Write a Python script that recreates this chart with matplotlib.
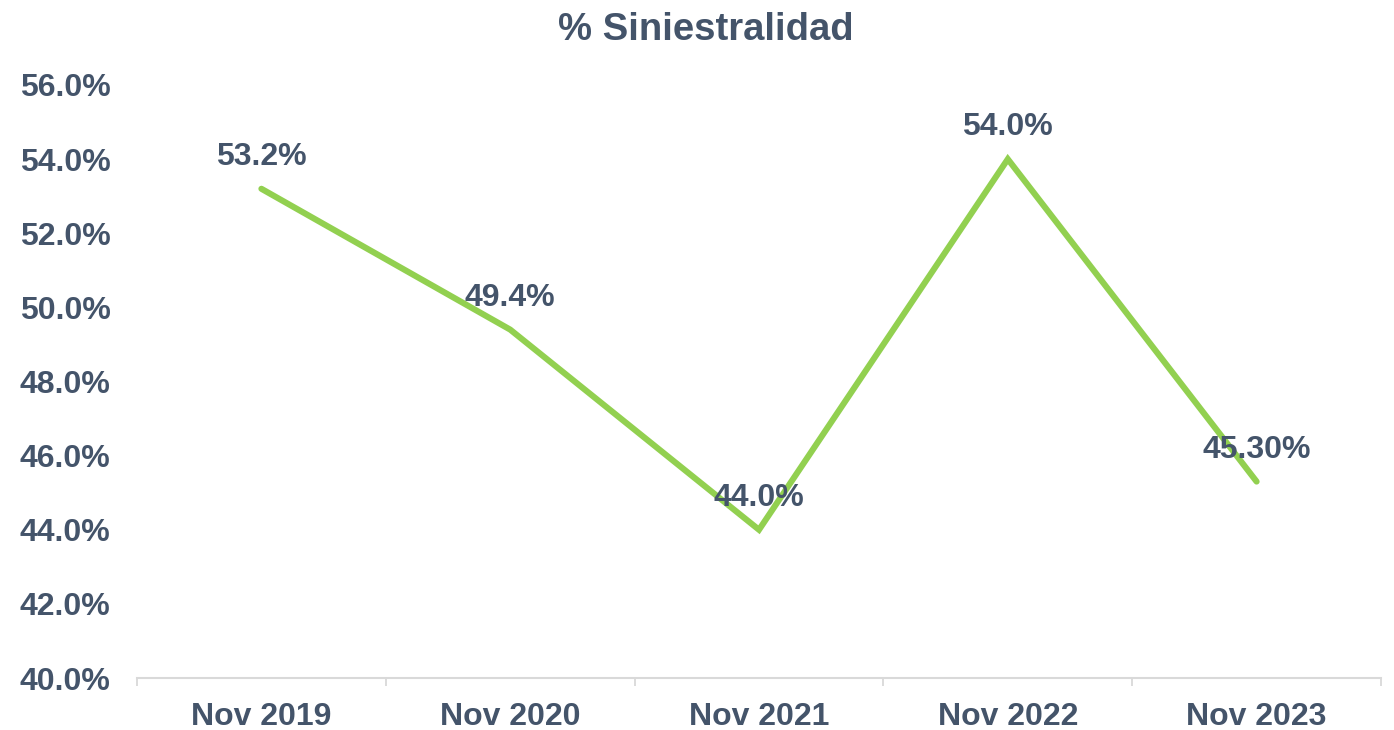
import matplotlib
matplotlib.use("Agg")
import matplotlib.pyplot as plt
from matplotlib.ticker import FuncFormatter

categories = ["Nov 2019", "Nov 2020", "Nov 2021", "Nov 2022", "Nov 2023"]
values = [53.2, 49.4, 44.0, 54.0, 45.3]
labels = ["53.2%", "49.4%", "44.0%", "54.0%", "45.30%"]
yticks = [40, 42, 44, 46, 48, 50, 52, 54, 56]

TXT = "#44546A"
LINE = "#92D050"
AX = "#D9D9D9"

plt.rcParams['font.family'] = ['Liberation Sans', 'DejaVu Sans']
plt.rcParams['font.weight'] = 'bold'

fig = plt.figure(figsize=(13.94, 7.30), dpi=100)
ax = fig.add_axes([137/1394, 1-678/730, (1381-137)/1394, (678-85)/730])

x = list(range(len(categories)))
ax.plot(x, values, color=LINE, linewidth=4.4, solid_capstyle='round', solid_joinstyle='miter')
for xi, v, lab in zip(x, values, labels):
    ax.annotate(lab, (xi, v), xytext=(0, 23), textcoords='offset points',
                ha='center', va='center', fontsize=23, fontweight='bold', color=TXT)

ax.set_xlim(-0.5, len(categories) - 0.5)
ax.set_ylim(40, 56)
ax.set_yticks(yticks)
ax.yaxis.set_major_formatter(FuncFormatter(lambda v, p: f"{v:.1f}%"))
ax.tick_params(axis='y', length=0, pad=19, labelsize=23, labelcolor=TXT)

ax.set_xticks([i - 0.5 for i in range(len(categories) + 1)])
ax.set_xticklabels([])
ax.set_xticks(x, minor=True)
ax.set_xticklabels(categories, minor=True)
ax.tick_params(axis='x', which='major', length=6, width=1.3, color=AX, direction='out')
ax.tick_params(axis='x', which='minor', length=0, pad=17.5, labelsize=23, labelcolor=TXT)

for s in ['left', 'right', 'top']:
    ax.spines[s].set_visible(False)
ax.spines['bottom'].set_color(AX)
ax.spines['bottom'].set_linewidth(1.5)
for l in ax.lines:
    l.set_clip_on(False)

fig.text(706/1394, 1-30/730, "% Siniestralidad", ha='center', va='center',
         fontsize=27.5, fontweight='bold', color=TXT)

fig.savefig("out.png", dpi=100)
